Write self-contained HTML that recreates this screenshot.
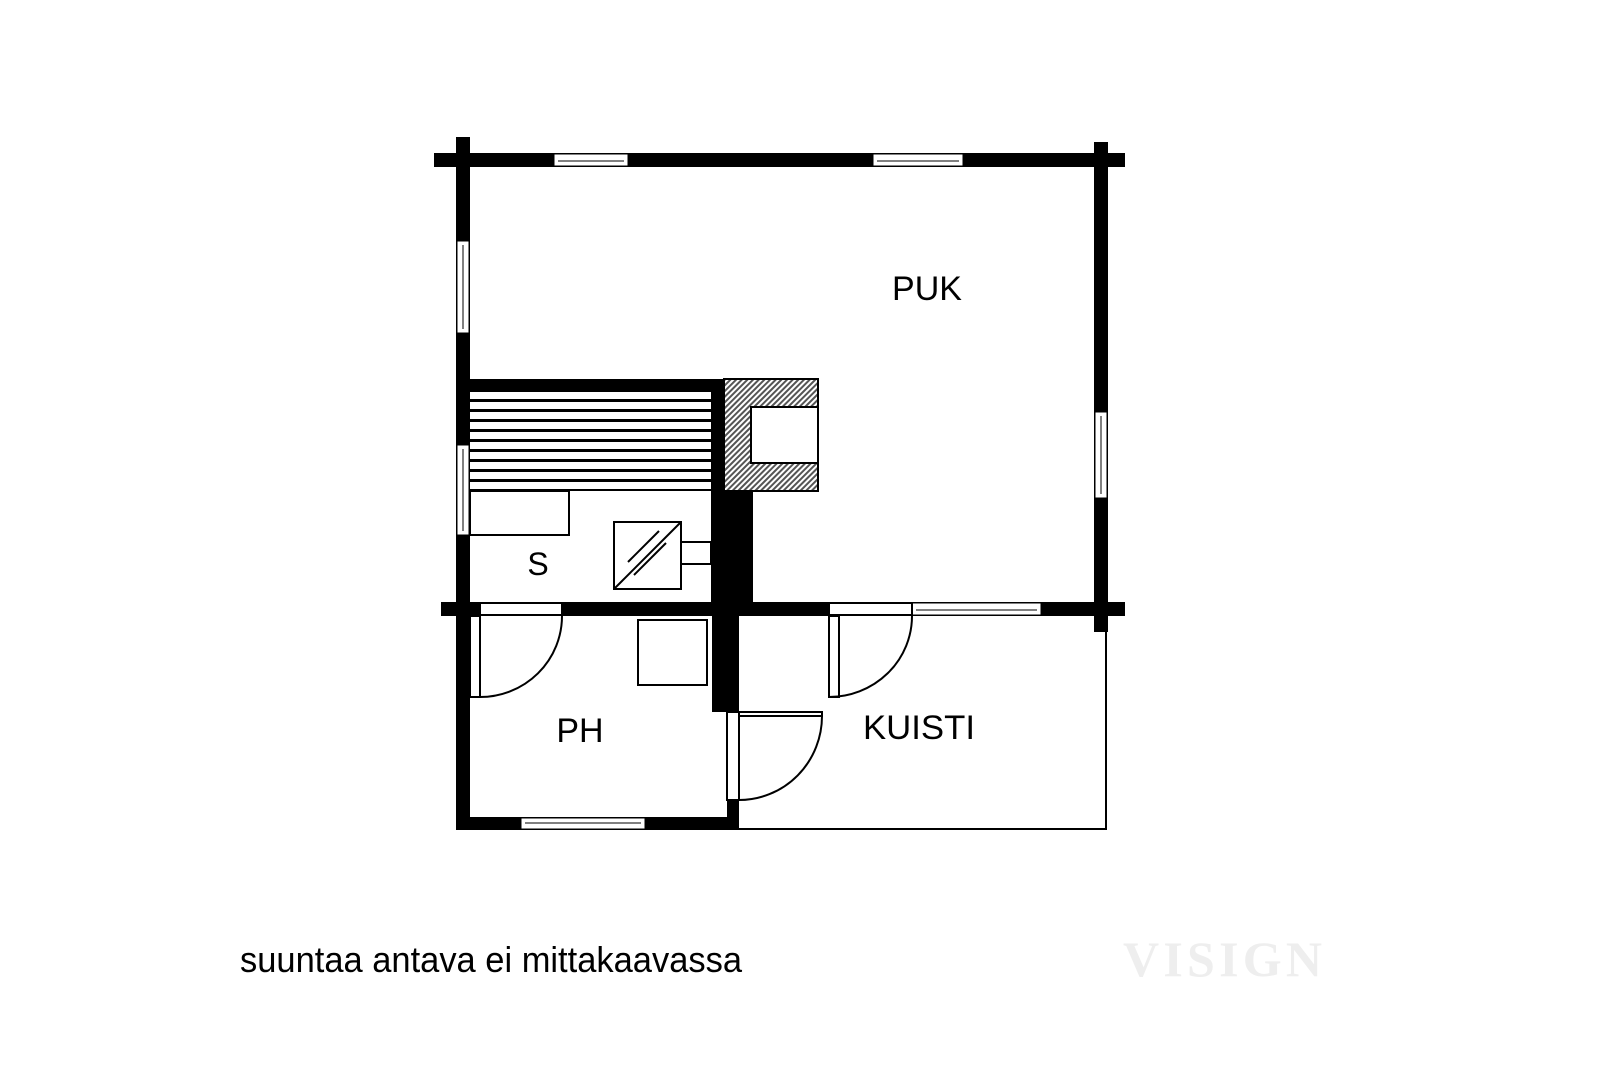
<!DOCTYPE html>
<html><head><meta charset="utf-8"><style>
html,body{margin:0;padding:0;background:#fff;}
svg{display:block;}
</style></head><body>
<svg width="1600" height="1067" viewBox="0 0 1600 1067" xmlns="http://www.w3.org/2000/svg">
<defs>
<pattern id="hatch" width="4" height="4" patternUnits="userSpaceOnUse" patternTransform="rotate(45)">
<rect width="4" height="4" fill="#fff"/><rect width="2" height="4" fill="#555"/>
</pattern>
</defs>
<g fill="#000">
<rect x="434" y="153" width="691" height="14"/>
<rect x="456" y="137" width="14" height="693"/>
<rect x="1094" y="142" width="14" height="490"/>
<rect x="441" y="602" width="684" height="14"/>
<rect x="456" y="817" width="271" height="13"/>
<rect x="470" y="379" width="241" height="13"/>
<rect x="711" y="379" width="13" height="112"/>
<rect x="711" y="491" width="42" height="111"/>
<rect x="712" y="616" width="27" height="96"/>
<rect x="727" y="800" width="12" height="30"/>
</g>
<g fill="#fff" stroke="#000" stroke-width="1">
<rect x="554" y="154" width="74" height="12"/>
<rect x="873" y="154" width="90" height="12"/>
<rect x="457" y="241" width="12" height="92"/>
<rect x="457" y="445" width="12" height="90"/>
<rect x="1095" y="412" width="12" height="86"/>
<rect x="912" y="603" width="129" height="12"/>
<rect x="521" y="818" width="124" height="11"/>
</g>
<g stroke="#000" stroke-width="1" fill="none">
<line x1="558" y1="161" x2="624" y2="161"/>
<line x1="877" y1="161" x2="959" y2="161"/>
<line x1="463" y1="245" x2="463" y2="329"/>
<line x1="463" y1="449" x2="463" y2="531"/>
<line x1="1101" y1="416" x2="1101" y2="494"/>
<line x1="916" y1="610" x2="1037" y2="610"/>
<line x1="525" y1="823" x2="641" y2="823"/>
</g>
<g fill="#000">
<rect x="470" y="399" width="241" height="3"/>
<rect x="470" y="409" width="241" height="3"/>
<rect x="470" y="419" width="241" height="3"/>
<rect x="470" y="429" width="241" height="3"/>
<rect x="470" y="439" width="241" height="3"/>
<rect x="470" y="449" width="241" height="3"/>
<rect x="470" y="459" width="241" height="3"/>
<rect x="470" y="469" width="241" height="3"/>
<rect x="470" y="479" width="241" height="3"/>
<rect x="470" y="489" width="241" height="2"/>
</g>
<rect x="470" y="491" width="99" height="44" fill="#fff" stroke="#000" stroke-width="2"/>
<rect x="724" y="379" width="94" height="112" fill="url(#hatch)" stroke="#000" stroke-width="2"/>
<rect x="751" y="407" width="67" height="56" fill="#fff" stroke="#000" stroke-width="2"/>
<g stroke="#000" stroke-width="2" fill="#fff">
<rect x="614" y="522" width="67" height="67"/>
<rect x="681" y="542" width="30" height="22"/>
<line x1="614" y1="589" x2="681" y2="522"/>
<line x1="628" y1="562" x2="659" y2="531"/>
<line x1="634" y1="575" x2="666" y2="543"/>
</g>
<g stroke="#000" stroke-width="2" fill="none">
<line x1="739" y1="829" x2="1107" y2="829"/>
<line x1="1106" y1="616" x2="1106" y2="830"/>
</g>
<g stroke="#000" stroke-width="2" fill="#fff">
<rect x="480" y="603" width="82" height="12"/>
<rect x="470" y="616" width="10" height="81"/>
<rect x="829" y="603" width="83" height="12"/>
<rect x="829" y="616" width="10" height="81"/>
<rect x="727" y="712" width="12" height="88"/>
<rect x="739" y="712" width="83" height="4"/>
<rect x="638" y="620" width="69" height="65"/>
</g>
<g stroke="#000" stroke-width="2" fill="none">
<path d="M562 616 A82 81 0 0 1 480 697"/>
<path d="M912 616 A83 81 0 0 1 829 697"/>
<path d="M822 716 A83 84 0 0 1 739 800"/>
</g>
<g font-family="Liberation Sans, Arial, sans-serif" fill="#000" text-anchor="middle">
<text x="927" y="300" font-size="34">PUK</text>
<text x="538" y="575" font-size="32">S</text>
<text x="580" y="742" font-size="34">PH</text>
<text x="919" y="739" font-size="34" textLength="112" lengthAdjust="spacingAndGlyphs">KUISTI</text>
<text x="240" y="972" font-size="36" text-anchor="start" textLength="502" lengthAdjust="spacingAndGlyphs">suuntaa antava ei mittakaavassa</text>
</g>
<text x="1123" y="976" font-family="Liberation Serif, serif" font-weight="bold" font-size="50" fill="#eeeeee" textLength="199">VISIGN</text>
</svg>
</body></html>
